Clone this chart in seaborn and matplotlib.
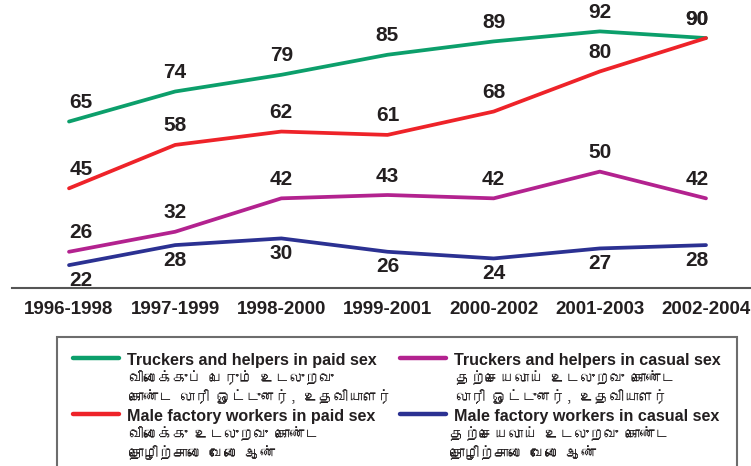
import pandas as pd
import seaborn as sns
import matplotlib.pyplot as plt
from matplotlib import font_manager
from matplotlib.lines import Line2D
from matplotlib.patches import Rectangle

periods = ["1996-1998", "1997-1999", "1998-2000", "1999-2001",
           "2000-2002", "2001-2003", "2002-2004"]
truckers_paid = [65, 74, 79, 85, 89, 92, 90]
factory_paid = [45, 58, 62, 61, 68, 80, 90]
truckers_casual = [26, 32, 42, 43, 42, 50, 42]
factory_casual = [22, 28, 30, 26, 24, 27, 28]

series_names = ["Truckers and helpers in paid sex",
                "Male factory workers in paid sex",
                "Truckers and helpers in casual sex",
                "Male factory workers in casual sex"]
series_values = [truckers_paid, factory_paid, truckers_casual, factory_casual]
tamil_labels = [
    "விலைக்குப் பெரும் உடலுறவு\nகொண்ட லாரி ஓட்டுனர், உதவியாளர்",
    "விலைக்கு உடலுறவு கொண்ட\nதொழிற்சாலை வேலை ஆண்",
    "தற்செயலாய் உடலுறவு கொண்ட\nலாரி ஓட்டுனர், உதவியாளர்",
    "தற்செயலாய் உடலுறவு கொண்ட\nதொழிற்சாலை வேலை ஆண்",
]
colors = ["#0c9f6b", "#ee2329", "#b3228f", "#2b3192"]
palette = dict(zip(series_names, colors))


def find_font(ch):
    # look for an installed font that has the Tamil glyphs
    try:
        from fontTools.ttLib import TTFont
    except Exception:
        return None
    for f in font_manager.fontManager.ttflist:
        try:
            tt = TTFont(f.fname, fontNumber=0, lazy=True)
            cmap = tt.getBestCmap()
            if cmap and ord(ch) in cmap:
                return f.name
        except Exception:
            pass
    return None


rows = []
for name, vals in zip(series_names, series_values):
    for i, (p, v) in enumerate(zip(periods, vals)):
        rows.append({"idx": i, "period": p, "series": name, "value": v})
df = pd.DataFrame(rows)

sns.set_style("white")
plt.rcParams["font.family"] = ["Liberation Sans", "DejaVu Sans"]
tamil_font = find_font("க")
tamil_family = [tamil_font, "DejaVu Sans"] if tamil_font else ["DejaVu Sans"]

W, H = 751, 466
fig = plt.figure(figsize=(W / 100, H / 100), dpi=100)
ax = fig.add_axes([12 / W, 1 - 288 / H, 1 - 12 / W, 288 / H])

sns.lineplot(data=df, x="idx", y="value", hue="series", hue_order=series_names,
             palette=palette, linewidth=2.7, legend=False, ax=ax)

ax.set_xlim(-0.537, 6.424)
ax.set_ylim(15.15, 101.4)
ax.set_xticks(range(len(periods)))
ax.set_xticklabels(periods, fontsize=13.5, fontweight="bold", color="#231f20")
ax.set_yticks([])
ax.tick_params(axis="x", length=0, pad=9)
ax.set_xlabel("")
ax.set_ylabel("")
for s in ["top", "left", "right"]:
    ax.spines[s].set_visible(False)
ax.spines["bottom"].set_color("#555555")
ax.spines["bottom"].set_linewidth(1.5)

# value labels: above for three series, below for the last one
for k, vals in enumerate(series_values):
    for i, v in enumerate(vals):
        dx = 12 if i == 0 else (-9 if i == len(vals) - 1 else 0)
        dy = -15 if k == 3 else 19
        ax.annotate(str(v), (i, v), xytext=(dx, dy), textcoords="offset pixels",
                    ha="center", va="center", fontsize=15, fontweight="bold",
                    color="#231f20")

# legend box
fig.add_artist(Rectangle((57 / W, -0.01), (737 - 57) / W, (H - 337) / H + 0.01,
                         transform=fig.transFigure, fill=False,
                         edgecolor="#6d6d6d", linewidth=1.5))


def fx(x):
    return x / W


def fy(y):
    return 1 - y / H


legend_pos = [(73, 358), (73, 414), (400, 358), (400, 414)]
for k, (x0, y0) in enumerate(legend_pos):
    fig.add_artist(Line2D([fx(x0), fx(x0 + 46)], [fy(y0), fy(y0)],
                          transform=fig.transFigure, color=colors[k],
                          linewidth=3.2))
    tx = x0 + 54
    fig.text(fx(tx), fy(y0 + 3), series_names[k], ha="left", va="center",
             fontsize=11.6, fontweight="bold", color="#231f20")
    fig.text(fx(tx + (2 if k != 3 else -4)), fy(y0 + 12), tamil_labels[k],
             ha="left", va="top", fontsize=10.5, color="#231f20",
             family=tamil_family, linespacing=1.35)

fig.savefig("out.png", dpi=100)
